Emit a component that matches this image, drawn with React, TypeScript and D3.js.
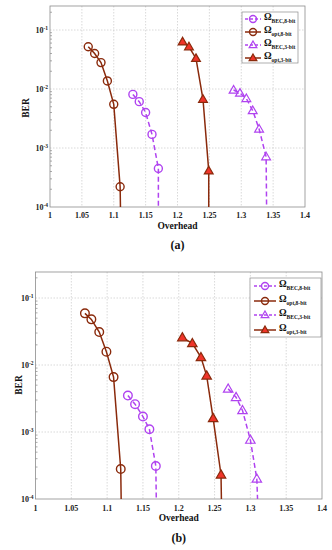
import * as React from 'react';
import { useRef, useEffect } from 'react';
import * as d3 from 'd3';

// panel (a)
const aBec8X = [1.13, 1.14, 1.15, 1.16, 1.17, 1.17];
const aBec8Y = [0.0081, 0.0061, 0.004, 0.0017, 0.00045, 0.00005];
const aOpt8X = [1.06, 1.07, 1.08, 1.09, 1.10, 1.11, 1.111];
const aOpt8Y = [0.052, 0.04, 0.028, 0.0137, 0.0055, 0.00022, 0.00005];
const aBec3X = [1.288, 1.298, 1.308, 1.318, 1.328, 1.339, 1.34];
const aBec3Y = [0.0096, 0.0085, 0.0069, 0.0043, 0.0021, 0.00071, 0.00005];
const aOpt3X = [1.208, 1.218, 1.229, 1.24, 1.249, 1.249];
const aOpt3Y = [0.063, 0.052, 0.033, 0.0067, 0.00041, 0.00005];

// panel (b)
const bBec8X = [1.129, 1.139, 1.15, 1.159, 1.168, 1.169];
const bBec8Y = [0.0035, 0.0026, 0.0017, 0.0011, 0.00031, 0.00005];
const bOpt8X = [1.069, 1.078, 1.089, 1.099, 1.109, 1.119, 1.12];
const bOpt8Y = [0.059, 0.048, 0.031, 0.0158, 0.0066, 0.00028, 0.00005];
const bBec3X = [1.269, 1.28, 1.289, 1.3, 1.309, 1.311];
const bBec3Y = [0.0044, 0.0033, 0.0021, 0.00076, 0.0002, 0.00005];
const bOpt3X = [1.205, 1.219, 1.231, 1.239, 1.248, 1.259, 1.26];
const bOpt3Y = [0.0257, 0.021, 0.013, 0.0069, 0.0016, 0.00023, 0.00005];

const xTicks = [1, 1.05, 1.1, 1.15, 1.2, 1.25, 1.3, 1.35, 1.4];
const yTicks = [1e-4, 1e-3, 1e-2, 1e-1];
const yExp = ['-4', '-3', '-2', '-1'];
const legendNames = ['BEC,8-bit', 'opt,8-bit', 'BEC,3-bit', 'opt,3-bit'];

const PURPLE = '#b043f0';
const BROWN = '#8a2a0c';
const RED = '#f0342a';
const FONT = '"Liberation Serif", "DejaVu Serif", serif';

interface Series { xs: number[]; ys: number[]; color: string; dash: string | null; marker: 'circle' | 'triangle'; fill: string; }

interface PanelCfg {
  id: string;
  left: number; right: number; top: number; y1: number; y4: number;
  series: Series[];
  label: string;
  berX: number; berY: number; overY: number; capY: number; tickY: number;
  legend: { x: number; y: number; w: number; h: number; rows: number[]; lx0: number; lx1: number; tx: number };
  r: number;
}

const drawMarker = (g: d3.Selection<SVGGElement, unknown, null, undefined>, s: Series, x: number, y: number, r: number) => {
  if (s.marker === 'circle') {
    g.append('circle').attr('cx', x).attr('cy', y).attr('r', r)
      .attr('fill', s.fill).attr('stroke', s.color).attr('stroke-width', 1.4);
  } else {
    const h = r * 1.9;
    const w = r * 1.1;
    g.append('path')
      .attr('d', `M${x},${y - h * 0.6}L${x + w},${y + h * 0.4}L${x - w},${y + h * 0.4}Z`)
      .attr('fill', s.fill).attr('stroke', s.color).attr('stroke-width', 1.2);
  }
};

const drawPanel = (svg: d3.Selection<SVGSVGElement, unknown, null, undefined>, c: PanelCfg) => {
  const x = d3.scaleLinear().domain([1, 1.4]).range([c.left, c.right]);
  const y = d3.scaleLog().domain([1e-4, 1e-1]).range([c.y4, c.y1]);
  const g = svg.append('g');

  g.append('clipPath').attr('id', 'clip' + c.id)
    .append('rect').attr('x', c.left).attr('y', c.top).attr('width', c.right - c.left).attr('height', c.y4 - c.top);

  // grid
  xTicks.slice(1, -1).forEach(t => {
    g.append('line').attr('x1', x(t)).attr('x2', x(t)).attr('y1', c.top).attr('y2', c.y4)
      .attr('stroke', '#c8c8c8').attr('stroke-width', 0.7).attr('stroke-dasharray', '1.5,1.5');
  });
  yTicks.slice(1).forEach(t => {
    g.append('line').attr('x1', c.left).attr('x2', c.right).attr('y1', y(t)).attr('y2', y(t))
      .attr('stroke', '#c8c8c8').attr('stroke-width', 0.7).attr('stroke-dasharray', '1.5,1.5');
  });

  // minor ticks
  for (let e = -4; e < 0; e++) {
    for (let m = 2; m < 10; m++) {
      const v = m * Math.pow(10, e);
      if (y(v) < c.top) continue;
      g.append('line').attr('x1', c.left).attr('x2', c.left + 2).attr('y1', y(v)).attr('y2', y(v))
        .attr('stroke', '#555').attr('stroke-width', 0.5);
    }
  }

  // frame
  g.append('rect').attr('x', c.left).attr('y', c.top).attr('width', c.right - c.left).attr('height', c.y4 - c.top)
    .attr('fill', 'none').attr('stroke', '#8c8c8c').attr('stroke-width', 0.8);

  // tick labels
  xTicks.forEach(t => {
    g.append('text').attr('x', x(t)).attr('y', c.tickY).attr('text-anchor', 'middle')
      .attr('font-family', FONT).attr('font-size', 8).attr('font-weight', 'bold').attr('fill', '#222')
      .text(d3.format('~g')(t));
  });
  yTicks.forEach((t, i) => {
    const tx = g.append('text').attr('x', c.left - 2).attr('y', y(t) + 3).attr('text-anchor', 'end')
      .attr('font-family', FONT).attr('font-size', 8).attr('font-weight', 'bold').attr('fill', '#222');
    tx.append('tspan').text('10');
    tx.append('tspan').attr('font-size', 5.5).attr('dy', -3.5).text(yExp[i]);
  });

  // axis labels
  g.append('text').attr('transform', `translate(${c.berX},${c.berY}) rotate(-90)`).attr('text-anchor', 'middle')
    .attr('font-family', FONT).attr('font-size', 9.5).attr('font-weight', 'bold').attr('fill', '#111').text('BER');
  g.append('text').attr('x', (c.left + c.right) / 2).attr('y', c.overY).attr('text-anchor', 'middle')
    .attr('font-family', FONT).attr('font-size', 9.5).attr('font-weight', 'bold').attr('fill', '#111').text('Overhead');
  g.append('text').attr('x', (c.left + c.right) / 2).attr('y', c.capY).attr('text-anchor', 'middle')
    .attr('font-family', FONT).attr('font-size', 12).attr('font-weight', 'bold').attr('fill', '#111').text(c.label);

  // series
  const plot = g.append('g').attr('clip-path', `url(#clip${c.id})`);
  c.series.forEach(s => {
    const pts = s.xs.map((v, i) => [v, s.ys[i]] as [number, number]);
    const line = d3.line<[number, number]>().x(d => x(d[0])).y(d => y(d[1]));
    plot.append('path').attr('d', line(pts)).attr('fill', 'none').attr('stroke', s.color)
      .attr('stroke-width', 1.5).attr('stroke-dasharray', s.dash);
    pts.forEach(p => {
      if (p[1] < 1e-4) return;
      drawMarker(plot, s, x(p[0]), y(p[1]), c.r);
    });
  });

  // legend
  const L = c.legend;
  g.append('rect').attr('x', L.x).attr('y', L.y).attr('width', L.w).attr('height', L.h)
    .attr('fill', '#fff').attr('stroke', '#8c8c8c').attr('stroke-width', 0.7);
  c.series.forEach((s, i) => {
    const ry = L.rows[i];
    g.append('line').attr('x1', L.lx0).attr('x2', L.lx1).attr('y1', ry).attr('y2', ry)
      .attr('stroke', s.color).attr('stroke-width', 1.5).attr('stroke-dasharray', s.dash ? '3,2' : null);
    drawMarker(g, s, (L.lx0 + L.lx1) / 2, ry, 3.5);
    const t = g.append('text').attr('x', L.tx).attr('y', ry + 1).attr('font-family', FONT)
      .attr('font-weight', 'bold').attr('fill', '#111').attr('font-size', 9.5);
    t.append('tspan').text('Ω');
    t.append('tspan').attr('font-size', 5.5).attr('dy', 3).text(legendNames[i]);
  });
};

const mkSeries = (bx: number[], by: number[], ox: number[], oy: number[], b3x: number[], b3y: number[], o3x: number[], o3y: number[], optFill: string): Series[] => [
  { xs: bx, ys: by, color: PURPLE, dash: '5,3', marker: 'circle', fill: 'none' },
  { xs: ox, ys: oy, color: BROWN, dash: null, marker: 'circle', fill: 'none' },
  { xs: b3x, ys: b3y, color: PURPLE, dash: '5,3', marker: 'triangle', fill: 'none' },
  { xs: o3x, ys: o3y, color: BROWN, dash: null, marker: 'triangle', fill: optFill },
];

const App: React.FC = () => {
  const svgRef = useRef<SVGSVGElement>(null);

  useEffect(() => {
    if (!svgRef.current) return;
    const svg = d3.select(svgRef.current);
    svg.selectAll('*').remove();

    drawPanel(svg, {
      id: 'a', left: 50, right: 305, top: 6, y1: 30, y4: 207,
      series: mkSeries(aBec8X, aBec8Y, aOpt8X, aOpt8Y, aBec3X, aBec3Y, aOpt3X, aOpt3Y, RED),
      label: '(a)', berX: 29, berY: 108, overY: 229, capY: 249, tickY: 218,
      legend: { x: 242, y: 12, w: 56, h: 51, rows: [19, 32, 45, 58], lx0: 245, lx1: 261, tx: 264 },
      r: 4,
    });
    drawPanel(svg, {
      id: 'b', left: 35.5, right: 322, top: 272, y1: 298, y4: 499,
      series: mkSeries(bBec8X, bBec8Y, bOpt8X, bOpt8Y, bBec3X, bBec3Y, bOpt3X, bOpt3Y, RED),
      label: '(b)', berX: 22, berY: 385, overY: 521, capY: 542, tickY: 511,
      legend: { x: 250, y: 278, w: 71, h: 59, rows: [286, 301, 315, 330], lx0: 254, lx1: 276, tx: 279 },
      r: 4.3,
    });
  }, []);

  return (
    <svg ref={svgRef} width={332} height={550}
      style={{ position: 'absolute', left: 0, top: 0, background: '#fff' }} />
  );
};

export default App;
